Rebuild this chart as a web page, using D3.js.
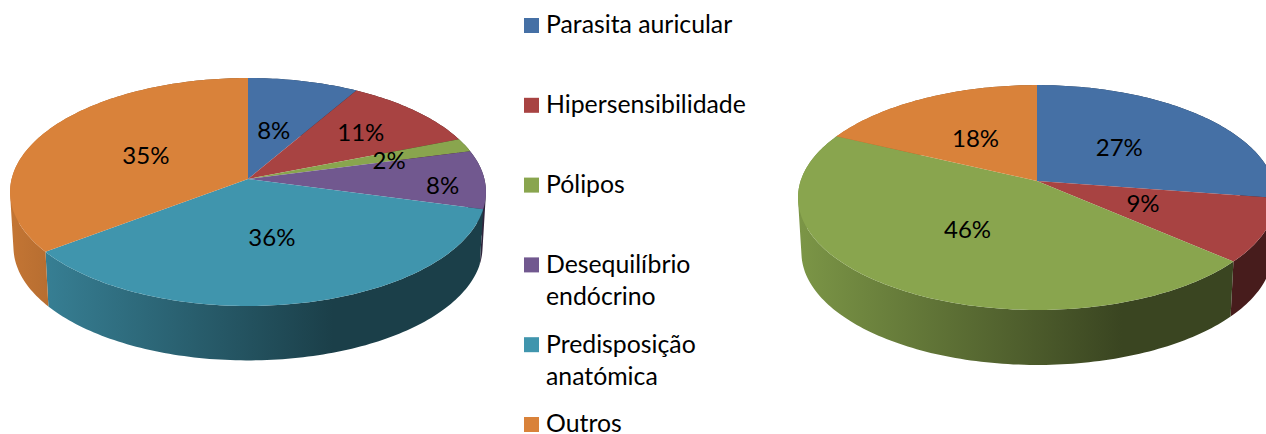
<!DOCTYPE html>
<html>
<head>
<meta charset="utf-8">
<script src="https://cdn.jsdelivr.net/npm/d3@7/dist/d3.min.js"></script>
<style>
  html, body { margin: 0; padding: 0; background: #fff; overflow: hidden; }
  text { font-family: Lato, "Open Sans", sans-serif; fill: #000; }
</style>
</head>
<body>
<svg id="chart" width="1266" height="434"></svg>
<script>
const categories = ["Parasita auricular", "Hipersensibilidade", "Pólipos", "Desequilíbrio endócrino", "Predisposição anatómica", "Outros"];
const colors = ["#4570a5", "#a84342", "#89a54e", "#71588f", "#4095ad", "#d9823a"];

const leftValues = [8.4, 10.6, 1.9, 8.3, 35.5, 35.3];
const rightValues = [27.4, 9.1, 45.6, 0, 0, 17.9];

// label distance from the centre, as a share of the radius
const leftLabelRadius = [0.47, 0.66, 0.63, 0.82, 0.5, 0.49];
const rightLabelRadius = [0.48, 0.48, 0.5, 0, 0, 0.49];
// label turned away from the slice's middle, degrees
const leftLabelTurn = [-1, 0, 3, 4, 0, -1];
const rightLabelTurn = [0, 0, 0, 0, 0, -2];

const legendLines = [["Parasita auricular"], ["Hipersensibilidade"], ["Pólipos"], ["Desequilíbrio", "endócrino"], ["Predisposição", "anatómica"], ["Outros"]];

var svg = d3.select("#chart");
var defs = svg.append("defs");

// circle seen in perspective: far side squeezed, near side stretched
function project(g, angle, r) {
  var s = 1 + g.k * r * Math.cos(angle);
  return [g.cx + g.a * r * Math.sin(angle) / s, g.cy - g.b * r * Math.cos(angle) / s];
}

function rim(g, a0, a1) {
  var n = Math.max(2, Math.ceil((a1 - a0) / 0.02));
  return d3.range(n + 1).map(i => project(g, a0 + (a1 - a0) * i / n, 1));
}

const line = d3.line();

// the side as small quads in one path, so the outline between top and bottom rim stays filled
function sidePath(top, bottom, d) {
  var t = rim(top, d.startAngle, d.endAngle);
  var b = rim(bottom, d.startAngle, d.endAngle);
  return d3.range(t.length - 1).map(i => {
    var quad = [t[i], t[i + 1], b[i + 1], b[i]];
    if (d3.polygonArea(quad) < 0) quad.reverse();
    return line(quad) + "Z";
  }).join("");
}

function drawPie(id, values, labelRadius, labelTurn, top, bottom) {
  var arcs = d3.pie().sort(null)(values);
  arcs = arcs.map((d, i) => ({ ...d, color: colors[i], labelR: labelRadius[i], turn: labelTurn[i] * Math.PI / 180 })).filter(d => d.value > 0);

  var g = svg.append("g").attr("class", id);

  // shaded side, light on the left and going dark to the right
  arcs.forEach((d, i) => {
    var gid = id + "-side-" + i;
    var c = d3.rgb(d.color);
    var shade = f => d3.rgb(c.r * f, c.g * f, c.b * f).formatHex();
    var grad = defs.append("linearGradient").attr("id", gid)
      .attr("gradientUnits", "userSpaceOnUse")
      .attr("x1", top.cx - top.a).attr("x2", top.cx + top.a)
      .attr("y1", 0).attr("y2", 0);
    grad.append("stop").attr("offset", 0).attr("stop-color", shade(0.9));
    grad.append("stop").attr("offset", 0.68).attr("stop-color", shade(0.42));
    grad.append("stop").attr("offset", 1).attr("stop-color", shade(0.42));

    g.append("path").attr("d", sidePath(top, bottom, d)).attr("fill", "url(#" + gid + ")");
  });

  // top face
  g.selectAll("path.slice").data(arcs).enter().append("path")
    .attr("class", "slice")
    .attr("d", d => line([[top.cx, top.cy]].concat(rim(top, d.startAngle, d.endAngle))) + "Z")
    .attr("fill", d => d.color);

  var labelAt = d => project(top, (d.startAngle + d.endAngle) / 2 + d.turn, d.labelR);

  g.selectAll("text").data(arcs).enter().append("text")
    .attr("x", d => labelAt(d)[0])
    .attr("y", d => labelAt(d)[1])
    .attr("dy", "0.35em")
    .attr("text-anchor", "middle")
    .attr("font-size", 24)
    .text(d => Math.round(d.value) + "%");
}

drawPie("left", leftValues, leftLabelRadius, leftLabelTurn,
  { cx: 248, cy: 179, a: 236.4, b: 112.5, k: 0.114 },
  { cx: 248, cy: 234, a: 233, b: 112, k: 0.114 });

drawPie("right", rightValues, rightLabelRadius, rightLabelTurn,
  { cx: 1037, cy: 181, a: 236.4, b: 110, k: 0.147 },
  { cx: 1037, cy: 236, a: 233, b: 110, k: 0.147 });

// legend
var legendY = d3.scalePoint().domain(categories).range([25.5, 424.5]);

var legend = svg.selectAll("g.legend").data(categories).enter().append("g")
  .attr("class", "legend")
  .attr("transform", d => "translate(524," + legendY(d) + ")");

legend.append("rect")
  .attr("x", 0).attr("y", -7.5)
  .attr("width", 15).attr("height", 15)
  .attr("fill", (d, i) => colors[i]);

legend.append("text")
  .attr("font-size", 24.8)
  .each(function(d, i) {
    d3.select(this).selectAll("tspan").data(legendLines[i]).enter().append("tspan")
      .attr("x", 22)
      .attr("y", (l, j) => 7.8 + j * 32.7)
      .text(l => l);
  });
</script>
</body>
</html>
